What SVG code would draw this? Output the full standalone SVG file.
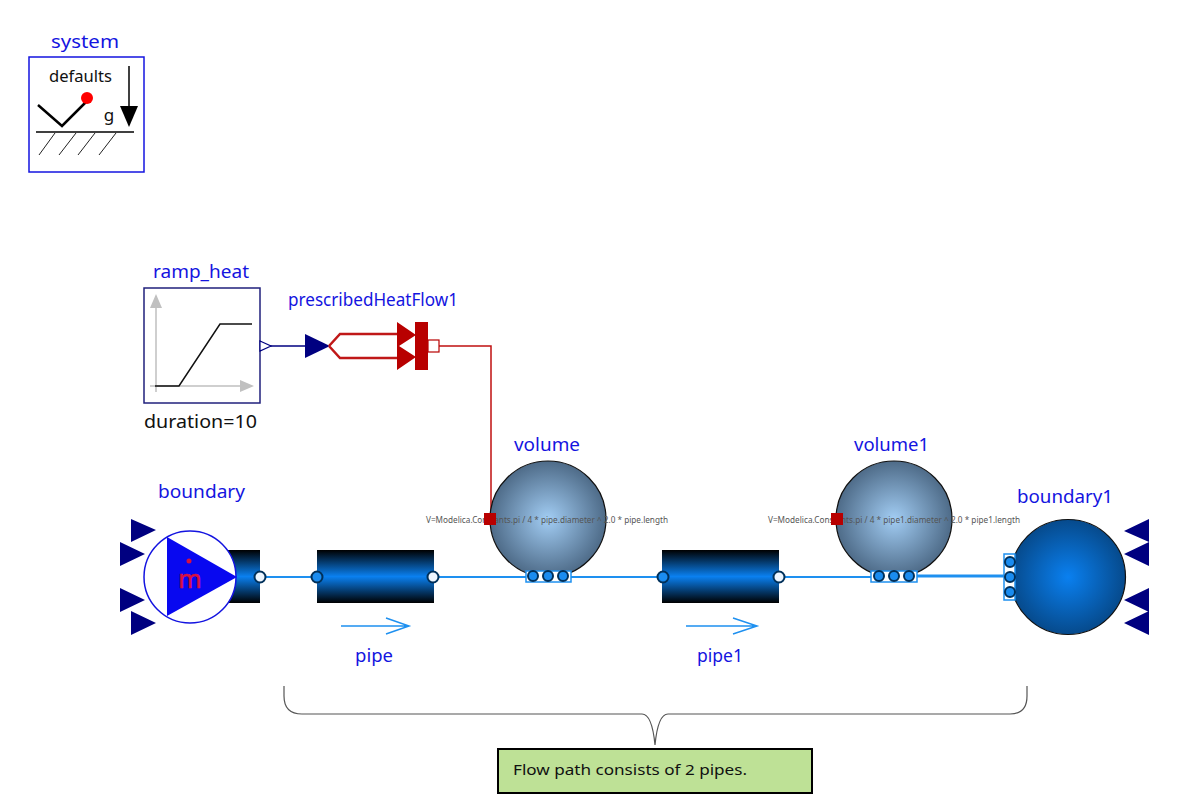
<svg xmlns="http://www.w3.org/2000/svg" width="1179" height="794" viewBox="0 0 1179 794">
<style>
text{font-family:"Noto Sans","Liberation Sans",sans-serif}
.lb{fill:#1414e0;font-size:18px;text-anchor:middle}
.blk{fill:#111;font-size:18px}
.eq{fill:#555;font-size:8.3px}
.tri{fill:#000080}
.conn{fill:#eef6ff;stroke:#00305a;stroke-width:2}
.fill{fill:#1a8cf0;stroke:#00305a;stroke-width:2}
.wire{fill:none;stroke:#1e90f0;stroke-width:2}
</style>
<defs>
<linearGradient id="pg" x1="0" y1="0" x2="0" y2="1"><stop offset="0" stop-color="#000"/><stop offset=".5" stop-color="#0a80f0"/><stop offset="1" stop-color="#000"/></linearGradient>
<radialGradient id="vg"><stop offset="0" stop-color="#a2cdf4"/><stop offset="1" stop-color="#4e6b88"/></radialGradient>
<radialGradient id="bg"><stop offset="0" stop-color="#0a80f0"/><stop offset="1" stop-color="#064a8c"/></radialGradient>
</defs>
<g id="connectors">
<path d="M270 346H305" fill="none" stroke="#000080" stroke-width="1.5"/>
<path d="M439 346H491V519" fill="none" stroke="#c01010" stroke-width="1.5"/>
<path class="wire" d="M260 577H317M433 577H663M779 577H872"/>
<path class="wire" d="M917 576H1004" style="stroke-width:3"/>
</g>
<g id="system">
<text class="lb" x="85" y="48" textLength="68" lengthAdjust="spacingAndGlyphs">system</text>
<rect x="29" y="57" width="115" height="115" fill="#fff" stroke="#1414e0" stroke-width="1.5"/>
<text class="blk" x="49" y="82" textLength="63" lengthAdjust="spacingAndGlyphs" style="font-size:16px">defaults</text>
<path d="M38 105L62 126L86 102" fill="none" stroke="#000" stroke-width="2.5"/>
<circle cx="87" cy="98" r="6" fill="#f00"/>
<text class="blk" x="109" y="121" text-anchor="middle" style="font-size:17px">g</text>
<path d="M129 66V106" stroke="#000" stroke-width="1.5"/>
<path d="M120 106H138L129 127Z" fill="#000"/>
<path d="M36 132H134" stroke="#000" stroke-width="1.5"/>
<path d="M39 155L55 133M59 155L76 133M78 155L95 133M99 155L116 133" stroke="#222" fill="none"/>
</g>
<g id="ramp_heat">
<text class="lb" x="201" y="278" textLength="96" lengthAdjust="spacingAndGlyphs">ramp_heat</text>
<rect x="144" y="288" width="116" height="115" fill="#fff" stroke="#20207c" stroke-width="1.5"/>
<path d="M156 302V392M150 386H243" stroke="#c0c0c0" stroke-width="1.5" fill="none"/>
<path d="M156 294L150 308H162ZM254 386L240 380V392Z" fill="#c0c0c0"/>
<path d="M155 386H179L220 324H252" fill="none" stroke="#111" stroke-width="1.5"/>
<path d="M260 341L271 346L260 351Z" fill="#fff" stroke="#000080" stroke-width="1.2"/>
<text class="blk" x="144" y="428" textLength="113" lengthAdjust="spacingAndGlyphs">duration=10</text>
</g>
<g id="prescribedHeatFlow1">
<text class="lb" x="373" y="306" textLength="170" lengthAdjust="spacingAndGlyphs">prescribedHeatFlow1</text>
<path d="M305 334L330 346L305 358Z" class="tri"/>
<path d="M329 346L340 334H400M329 346L340 358H400" fill="none" stroke="#c01818" stroke-width="2.5"/>
<path d="M397 322L416 335L399 346L416 357L397 370Z" fill="#b80000"/>
<rect x="415" y="322" width="13" height="48" fill="#b80000"/>
<rect x="428" y="340" width="11" height="12" fill="#fff" stroke="#b80000" stroke-width="1.2"/>
</g>
<g id="boundary">
<text class="lb" x="201.500" y="498" textLength="87" lengthAdjust="spacingAndGlyphs">boundary</text>
<path d="M131 519L156 530L131 542ZM120 542L145 554L120 566ZM120 588L145 600L120 612ZM131 611L156 623L131 635Z" class="tri"/>
<rect x="225" y="550" width="35" height="53" fill="url(#pg)"/>
<circle cx="190" cy="577" r="46" fill="#fff" stroke="#1414e0" stroke-width="1.5"/>
<path d="M167 537L237 577L167 616Z" fill="#0808f0"/>
<text x="190" y="588" text-anchor="middle" fill="#d81040" stroke="#d81040" stroke-width=".6" style="font-size:25px">m</text>
<circle cx="189" cy="561" r="2.500" fill="#d81040"/>
<circle class="conn" cx="260" cy="577" r="5.5"/>
</g>
<g id="pipe">
<rect x="317" y="550" width="117" height="53" fill="url(#pg)"/>
<circle class="fill" cx="317" cy="577" r="5.5"/>
<circle class="conn" cx="433" cy="577" r="5.5"/>
<path d="M341 626H409M386 618L409 626L386 634" fill="none" stroke="#1e90f0" stroke-width="1.5"/>
<text class="lb" x="374" y="662" textLength="38" lengthAdjust="spacingAndGlyphs">pipe</text>
</g>
<g id="volume">
<text class="lb" x="547" y="451" textLength="66" lengthAdjust="spacingAndGlyphs">volume</text>
<circle cx="548" cy="519" r="58" fill="url(#vg)" stroke="#111" stroke-width="1.2"/>
<text class="eq" x="426" y="523" textLength="242" lengthAdjust="spacingAndGlyphs">V=Modelica.Constants.pi / 4 * pipe.diameter ^ 2.0 * pipe.length</text>
<rect x="484" y="513" width="12" height="12" fill="#b80000"/>
<rect x="526" y="571" width="45" height="11" fill="#fff" stroke="#1e90f0" stroke-width="1.5"/>
<circle class="fill" cx="533" cy="576" r="5"/><circle class="fill" cx="548" cy="576" r="5"/><circle class="fill" cx="563" cy="576" r="5"/>
</g>
<g id="pipe1">
<rect x="662" y="550" width="117" height="53" fill="url(#pg)"/>
<circle class="fill" cx="663" cy="577" r="5.5"/>
<circle class="conn" cx="779" cy="577" r="5.5"/>
<path d="M686 626H757M733 618L757 626L733 634" fill="none" stroke="#1e90f0" stroke-width="1.5"/>
<text class="lb" x="720" y="662" textLength="46" lengthAdjust="spacingAndGlyphs">pipe1</text>
</g>
<g id="volume1">
<text class="lb" x="891.500" y="451" textLength="75" lengthAdjust="spacingAndGlyphs">volume1</text>
<circle cx="894" cy="519" r="58" fill="url(#vg)" stroke="#111" stroke-width="1.2"/>
<text class="eq" x="768" y="523" textLength="252" lengthAdjust="spacingAndGlyphs">V=Modelica.Constants.pi / 4 * pipe1.diameter ^ 2.0 * pipe1.length</text>
<rect x="831" y="513" width="12" height="12" fill="#b80000"/>
<rect x="871" y="571" width="46" height="11" fill="#fff" stroke="#1e90f0" stroke-width="1.5"/>
<circle class="fill" cx="879" cy="576" r="5"/><circle class="fill" cx="894" cy="576" r="5"/><circle class="fill" cx="909" cy="576" r="5"/>
</g>
<g id="boundary1">
<text class="lb" x="1065" y="503" textLength="96" lengthAdjust="spacingAndGlyphs">boundary1</text>
<circle cx="1068" cy="577" r="57.5" fill="url(#bg)" stroke="#111" stroke-width="1.2"/>
<path d="M1149 519L1124 531L1149 542ZM1149 542L1124 554L1149 566ZM1149 588L1124 600L1149 612ZM1149 611L1124 623L1149 635Z" class="tri"/>
<rect x="1004" y="554" width="11" height="46" fill="#fff" stroke="#1e90f0" stroke-width="1.5"/>
<circle class="fill" cx="1010" cy="562" r="5"/><circle class="fill" cx="1010" cy="577" r="5"/><circle class="fill" cx="1010" cy="592" r="5"/>
</g>
<g id="brace">
<path d="M284 686V696Q284 714 302 714H642Q652 714 655 745Q658 714 668 714H1010Q1027 714 1027 696V686" fill="none" stroke="#555" stroke-width="1.2"/>
</g>
<g id="note">
<rect x="498" y="749" width="314" height="44" fill="#bee196" stroke="#000" stroke-width="2"/>
<text x="513" y="775" fill="#111" textLength="234" lengthAdjust="spacingAndGlyphs" style="font-size:15px">Flow path consists of 2 pipes.</text>
</g>
</svg>
